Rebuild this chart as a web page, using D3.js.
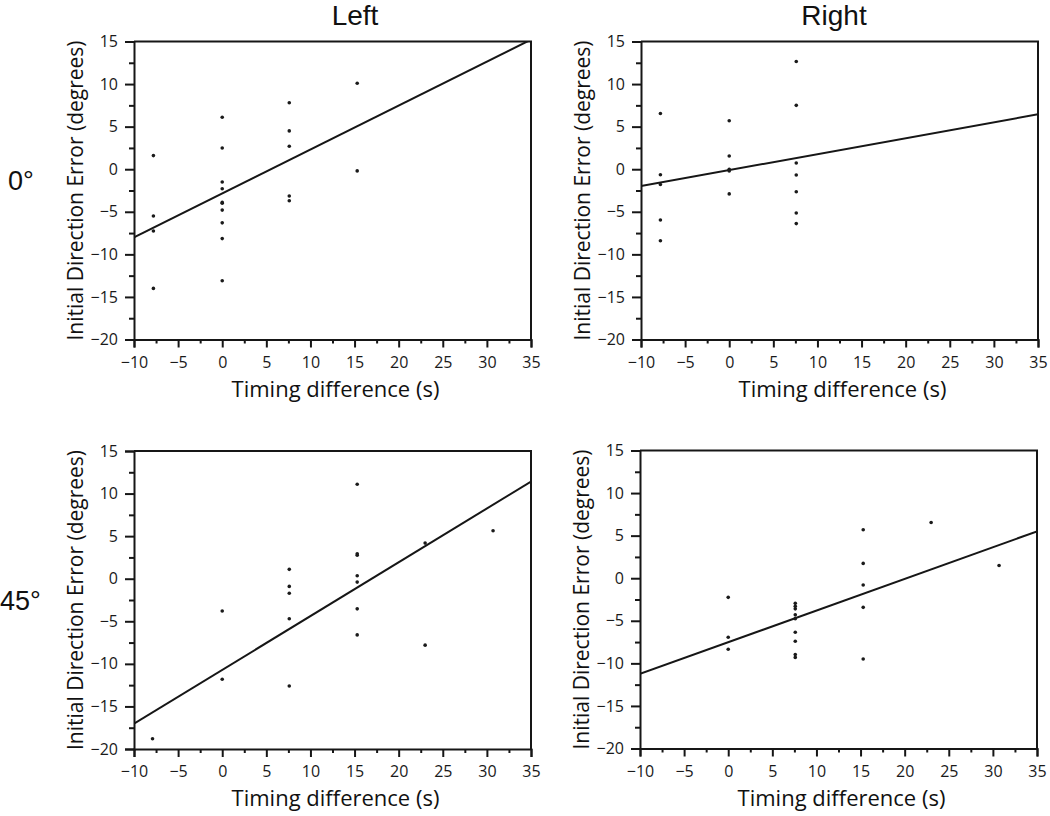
<!DOCTYPE html>
<html>
<head>
<meta charset="utf-8">
<script src="https://cdn.jsdelivr.net/npm/d3@7"></script>
<style>
  html, body { margin: 0; padding: 0; background: #fff; }
  svg { display: block; }
</style>
</head>
<body>
<svg id="chart" width="1050" height="816"></svg>
<script>
// ---- data ----
const columnLabels = ["Left", "Right"];
const rowLabels = ["0°", "45°"];
const xTickValues = [-10, -5, 0, 5, 10, 15, 20, 25, 30, 35];
const yTickValues = [-20, -15, -10, -5, 0, 5, 10, 15];
const xTitle = "Timing difference (s)";
const yTitle = "Initial Direction Error (degrees)";

// Left, 0°
const leftZeroX = [-7.8, -7.8, -7.8, -7.8, 0, 0, 0, 0, 0, 0, 0, 0, 0, 0, 7.6, 7.6, 7.6, 7.6, 7.6, 15.3, 15.3];
const leftZeroY = [1.6, -5.5, -7.25, -14.0, 6.1, 2.5, -1.5, -2.3, -3.9, -4.0, -4.8, -6.3, -8.15, -13.1, 7.8, 4.5, 2.7, -3.15, -3.7, 10.1, -0.2];
// Right, 0°
const rightZeroX = [-7.8, -7.8, -7.8, -7.8, -7.8, 0, 0, 0, 0, 0, 7.6, 7.6, 7.6, 7.6, 7.6, 7.6, 7.6];
const rightZeroY = [6.55, -0.65, -1.8, -5.96, -8.4, 5.7, 1.55, 0, -0.2, -2.9, 12.65, 7.5, 0.73, -0.68, -2.64, -5.14, -6.39];
// Left, 45°
const leftFortyFiveX = [-7.9, 0, 0, 7.6, 7.6, 7.6, 7.6, 7.6, 15.3, 15.3, 15.3, 15.3, 15.3, 15.3, 15.3, 23, 23, 30.7];
const leftFortyFiveY = [-18.8, -3.8, -11.8, 1.1, -0.9, -1.7, -4.7, -12.6, 11.1, 2.93, 2.75, 0.34, -0.4, -3.54, -6.6, 4.18, -7.8, 5.63];
// Right, 45°
const rightFortyFiveX = [0, 0, 0, 7.6, 7.6, 7.6, 7.6, 7.6, 7.6, 7.6, 7.6, 7.6, 15.3, 15.3, 15.3, 15.3, 15.3, 23, 30.7];
const rightFortyFiveY = [-2.25, -6.94, -8.35, -2.95, -3.3, -3.6, -4.3, -4.75, -6.35, -7.4, -8.97, -9.3, 5.7, 1.74, -0.8, -3.42, -9.48, 6.55, 1.5];

// regression lines (intercept at x=0, slope)
const fitIntercepts = [-2.84, -0.1, -10.71, -7.52];
const fitSlopes = [0.516, 0.187, 0.632, 0.372];

// ---- layout ----
const svg = d3.select("#chart");
const W = 397, H = 298;
const panels = [
  { x0: 134, y0: 41.5, xs: leftZeroX, ys: leftZeroY },
  { x0: 641, y0: 41.5, xs: rightZeroX, ys: rightZeroY },
  { x0: 134, y0: 451, xs: leftFortyFiveX, ys: leftFortyFiveY },
  { x0: 640, y0: 450.5, xs: rightFortyFiveX, ys: rightFortyFiveY }
];
const ink = "#161616";
const tickFont = "'Open Sans', 'DejaVu Sans', sans-serif";

const x = d3.scaleLinear().domain([-10, 35]).range([0, W]);
const y = d3.scaleLinear().domain([-20, 15]).range([H, 0]);
const xMinor = d3.range(-7.5, 35, 5);
const yMinor = d3.range(-17.5, 15, 5);
const fmt = d => (d < 0 ? "\u2212" + Math.abs(d) : String(d));

panels.forEach((p, i) => {
  const g = svg.append("g").attr("transform", `translate(${p.x0},${p.y0})`);

  g.append("clipPath").attr("id", "clip" + i)
    .append("rect").attr("width", W).attr("height", H);

  // frame top & right
  g.append("path")
    .attr("d", `M0,0H${W}V${H}`)
    .attr("fill", "none").attr("stroke", ink).attr("stroke-width", 2);

  // minor ticks
  g.append("g").attr("transform", `translate(0,${H})`)
    .call(d3.axisBottom(x).tickValues(xMinor).tickSize(4).tickFormat(""))
    .call(s => s.select(".domain").remove())
    .call(s => s.selectAll("line").attr("stroke", ink).attr("stroke-width", 2));
  g.append("g")
    .call(d3.axisLeft(y).tickValues(yMinor).tickSize(5).tickFormat(""))
    .call(s => s.select(".domain").remove())
    .call(s => s.selectAll("line").attr("stroke", ink).attr("stroke-width", 2));

  // major axes
  g.append("g").attr("transform", `translate(0,${H})`)
    .call(d3.axisBottom(x).tickValues(xTickValues).tickSize(8).tickSizeOuter(8).tickPadding(9).tickFormat(fmt))
    .call(s => s.select(".domain").attr("stroke", ink).attr("stroke-width", 2))
    .call(s => s.selectAll("line").attr("stroke", ink).attr("stroke-width", 2))
    .call(s => s.selectAll("text").attr("fill", "#1a1a1a").style("font-family", tickFont).style("font-size", "16px"));
  g.append("g")
    .call(d3.axisLeft(y).tickValues(yTickValues).tickSize(9).tickSizeOuter(9).tickPadding(7).tickFormat(fmt))
    .call(s => s.select(".domain").attr("stroke", ink).attr("stroke-width", 2))
    .call(s => s.selectAll("line").attr("stroke", ink).attr("stroke-width", 2))
    .call(s => s.selectAll("text").attr("fill", "#1a1a1a").style("font-family", tickFont).style("font-size", "16px"));

  // regression line
  const b0 = fitIntercepts[i], b1 = fitSlopes[i];
  const fit = [-10, 35].map(v => [v, b0 + b1 * v]);
  g.append("path")
    .attr("clip-path", `url(#clip${i})`)
    .attr("d", d3.line().x(d => x(d[0])).y(d => y(d[1]))(fit))
    .attr("fill", "none").attr("stroke", ink).attr("stroke-width", 2);

  // points
  g.append("g").selectAll("circle")
    .data(p.xs.map((v, k) => [v, p.ys[k]]))
    .join("circle")
    .attr("cx", d => x(d[0])).attr("cy", d => y(d[1]))
    .attr("r", 1.8).attr("fill", "#1a1a1a");

  // axis titles
  g.append("text")
    .attr("x", W / 2 + 3).attr("y", H + 57)
    .attr("text-anchor", "middle")
    .style("font-family", tickFont).style("font-size", "22px").attr("fill", "#111")
    .text(xTitle);
  g.append("text")
    .attr("transform", `translate(-51,${H / 2}) rotate(-90)`)
    .attr("text-anchor", "middle")
    .style("font-family", tickFont).style("font-size", "21px").attr("fill", "#111")
    .text(yTitle);
});

// column headers
const headerFont = "'Liberation Sans', Arial, sans-serif";
[355, 834].forEach((cx, k) => {
  svg.append("text").attr("x", cx).attr("y", 25)
    .attr("text-anchor", "middle")
    .style("font-family", headerFont).style("font-size", "28px").attr("fill", "#111")
    .text(columnLabels[k]);
});
// row labels
[[8, 190], [0, 610]].forEach((pos, k) => {
  svg.append("text").attr("x", pos[0]).attr("y", pos[1])
    .style("font-family", headerFont).style("font-size", "27px").attr("fill", "#111")
    .text(rowLabels[k]);
});
</script>
</body>
</html>
